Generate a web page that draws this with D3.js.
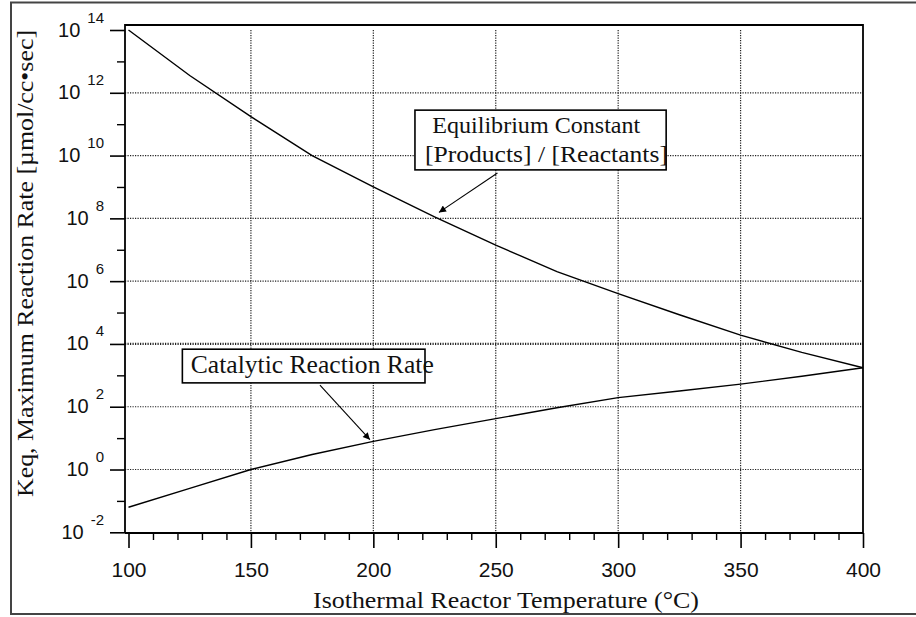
<!DOCTYPE html>
<html><head><meta charset="utf-8">
<script src="https://cdn.jsdelivr.net/npm/d3@7"></script>
<style>body{margin:0;background:#fff} svg{display:block}</style>
</head><body>
<svg id="chart" width="916" height="617"></svg>
<script>
// ---- data ----
const temperatures = [100,125,150,175,200,225,250,275,300,325,350,375,400];
const keqValues   = [1e14,3.55e12,1.74e11,1.0e10,1.0e9,1.12e8,1.41e7,2.0e6,4.0e5,8.5e4,1.9e4,5.4e3,1.74e3];
const rateValues  = [0.063,0.25,1.0,3.0,7.9,18.6,41.7,93,195,316,525,933,1740];
const xTickValues = [100,150,200,250,300,350,400];
const xMinorTicks = [110,120,130,140,160,170,180,190,210,220,230,240,260,270,280,290,310,320,330,340,360,370,380,390];
const yTickExponents = [-2,0,2,4,6,8,10,12,14];
const yMinorExponents = [-1,1,3,5,7,9,11,13];
const xGridValues = [150,200,250,300,350];
const yGridExponents = [0,2,4,6,8,10,12];
const xTitle = "Isothermal Reactor Temperature (°C)";
const yTitle = "Keq, Maximum Reaction Rate [µmol/cc•sec]";
const annotationLines1 = ["Equilibrium Constant", "[Products] / [Reactants]"];
const annotationLines2 = ["Catalytic Reaction Rate"];

// ---- layout ----
const svg = d3.select("#chart");
const L = 125, R = 863, T = 25, B = 533;
const x = d3.scaleLinear().domain([100,400]).range([128.5,863]);
const y = d3.scaleLog().domain([1e-2,1e14]).range([532.3,30]);

// outer frame
svg.append("rect").attr("x",11).attr("y",2.5).attr("width",920).attr("height",611.5)
  .attr("fill","none").attr("stroke","#444").attr("stroke-width",2);

// grid
const grid = svg.append("g").attr("stroke","#222").attr("fill","none");
grid.selectAll("line.v").data(xGridValues).join("line")
  .attr("x1",d=>x(d)).attr("x2",d=>x(d)).attr("y1",y(1e14)).attr("y2",B)
  .attr("stroke-width",1.2).attr("stroke-dasharray","1.2,1.3");
grid.selectAll("line.h").data(yGridExponents).join("line")
  .attr("x1",L).attr("x2",R).attr("y1",d=>y(Math.pow(10,d))).attr("y2",d=>y(Math.pow(10,d)))
  .attr("stroke-width",d=>d===4?2.2:1.2).attr("stroke-dasharray","1.2,1.3");

// curves
const line = d3.line().x(d=>x(d[0])).y(d=>y(d[1]));
svg.append("path").datum(temperatures.map((t,i)=>[t,keqValues[i]]))
  .attr("d",line).attr("fill","none").attr("stroke","#000").attr("stroke-width",1.4);
svg.append("path").datum(temperatures.map((t,i)=>[t,rateValues[i]]))
  .attr("d",line).attr("fill","none").attr("stroke","#000").attr("stroke-width",1.4);

// axes ticks via d3 axes
const xMajor = svg.append("g").attr("transform",`translate(0,${B})`)
  .call(d3.axisBottom(x).tickValues(xTickValues).tickSize(15).tickFormat(d3.format("d")));
xMajor.select(".domain").remove();
xMajor.selectAll(".tick line").attr("stroke","#000").attr("stroke-width",1.6);
xMajor.selectAll(".tick text").attr("font-family","'Liberation Sans', Arial, sans-serif")
  .attr("font-size",21).attr("fill","#111").attr("y",null).attr("dy",null)
  .attr("transform","translate(0,44)");
const xMinor = svg.append("g").attr("transform",`translate(0,${B})`)
  .call(d3.axisBottom(x).tickValues(xMinorTicks).tickSize(7).tickFormat(""));
xMinor.select(".domain").remove();
xMinor.selectAll(".tick line").attr("stroke","#000").attr("stroke-width",1.4);

const yMajor = svg.append("g").attr("transform",`translate(${L},0)`)
  .call(d3.axisLeft(y).tickValues(yTickExponents.map(e=>Math.pow(10,e))).tickSize(15).tickFormat(""));
yMajor.select(".domain").remove();
yMajor.selectAll(".tick line").attr("stroke","#000").attr("stroke-width",1.6);
const yMinor = svg.append("g").attr("transform",`translate(${L},0)`)
  .call(d3.axisLeft(y).tickValues(yMinorExponents.map(e=>Math.pow(10,e))).tickSize(8).tickFormat(""));
yMinor.select(".domain").remove();
yMinor.selectAll(".tick line").attr("stroke","#000").attr("stroke-width",1.4);

// y tick labels with superscripts
const yl = svg.append("g").attr("font-family","'Liberation Sans', Arial, sans-serif").attr("fill","#111");
yTickExponents.forEach(e=>{
  const t = yl.append("text").attr("x",104).attr("y",y(Math.pow(10,e))+6.5).attr("text-anchor","end");
  t.append("tspan").attr("font-size",20).text("10");
  t.append("tspan").attr("font-size",15).attr("dx",7).attr("dy",-14).text(String(e));
});

// plot frame
svg.append("path").attr("d",`M${L},${B}V${T}H${R}V${B}`).attr("fill","none")
  .attr("stroke","#000").attr("stroke-width",1.8);
svg.append("line").attr("x1",L).attr("x2",R).attr("y1",B).attr("y2",B)
  .attr("stroke","#000").attr("stroke-width",1.8);

// titles
svg.append("text").attr("x",506).attr("y",608).attr("text-anchor","middle")
  .attr("font-family","'Liberation Serif','Times New Roman',serif").attr("font-size",24)
  .attr("fill","#111").attr("textLength",386).attr("lengthAdjust","spacingAndGlyphs").text(xTitle);
svg.append("text").attr("transform","translate(33,263.5) rotate(-90)").attr("text-anchor","middle")
  .attr("font-family","'Liberation Serif','Times New Roman',serif").attr("font-size",24)
  .attr("fill","#111").attr("textLength",467).attr("lengthAdjust","spacingAndGlyphs").text(yTitle);

// annotations
const defs = svg.append("defs");
defs.append("marker").attr("id","ah").attr("viewBox","0 0 10 10").attr("refX",10).attr("refY",5)
  .attr("markerWidth",11).attr("markerHeight",7).attr("markerUnits","userSpaceOnUse")
  .attr("orient","auto").append("path").attr("d","M0,0L10,5L0,10z").attr("fill","#000");

const annotations = [
  {box:[217.0,319.6,2.8e11,3.5e9], tail:[250.7,2.8e9], tip:[226.8,1.55e8],
   lines:annotationLines1, size:24, dx:[17.3,10], dy:[23,52], len:[208,243]},
  {box:[122.0,221.1,6.8e3,575], tail:[178.2,490], tip:[198.6,8.9],
   lines:annotationLines2, size:25, dx:[8.4], dy:[24], len:[243]}
];
annotations.forEach(a=>{
  svg.append("line").attr("x1",x(a.tail[0])).attr("y1",y(a.tail[1]))
    .attr("x2",x(a.tip[0])).attr("y2",y(a.tip[1]))
    .attr("stroke","#000").attr("stroke-width",1.1).attr("marker-end","url(#ah)");
  const bx = x(a.box[0]), by = y(a.box[2]);
  svg.append("rect").attr("x",bx).attr("y",by).attr("width",x(a.box[1])-bx).attr("height",y(a.box[3])-by)
    .attr("fill","#fff").attr("stroke","#000").attr("stroke-width",1.6);
  a.lines.forEach((s,i)=>{
    svg.append("text").attr("x",bx+a.dx[i]).attr("y",by+a.dy[i])
      .attr("font-family","'Liberation Serif','Times New Roman',serif").attr("font-size",a.size)
      .attr("fill","#111").attr("textLength",a.len[i]).attr("lengthAdjust","spacingAndGlyphs").text(s);
  });
});
</script>
</body></html>
